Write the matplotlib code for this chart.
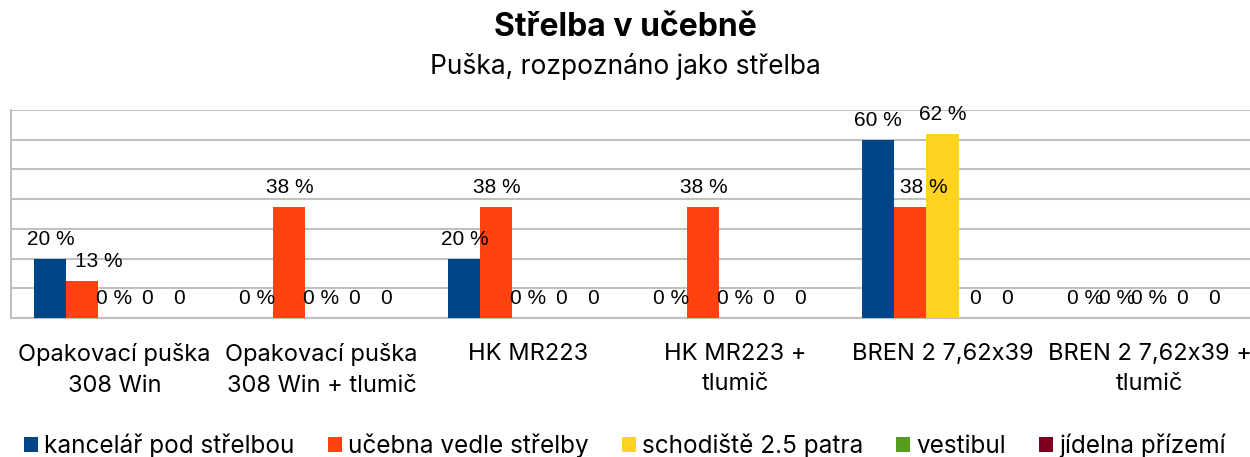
import numpy as np
import matplotlib
matplotlib.use('Agg')
from matplotlib import pyplot as plt
from matplotlib.patches import Patch

categories = ['Opakovací puška\n308 Win', 'Opakovací puška\n308 Win + tlumič', 'HK MR223',
              'HK MR223 +\ntlumič', 'BREN 2 7,62x39', 'BREN 2 7,62x39 +\ntlumič']
series = ['kancelář pod střelbou', 'učebna vedle střelby', 'schodiště 2.5 patra',
          'vestibul', 'jídelna přízemí']
kancelar = [20, 0, 20, 0, 60, 0]
ucebna = [12.5, 37.5, 37.5, 37.5, 37.5, 0]
schodiste = [0, 0, 0, 0, 62, 0]
vestibul = [0, 0, 0, 0, 0, 0]
jidelna = [0, 0, 0, 0, 0, 0]
colors = ['#004586', '#ff420e', '#ffd320', '#579d1c', '#7e0021']
show_pct = [True, True, True, False, False]  # last two series labelled without %

values = [kancelar, ucebna, schodiste, vestibul, jidelna]
# small nudges where the labels would overlap
nudge = {(0, 1): 12, (4, 1): 10}

fig = plt.figure(figsize=(12.5, 4.57), dpi=100)
ax = fig.add_axes([11 / 1250, 1 - 318 / 457, 1242 / 1250, 208 / 457])

x = np.arange(len(categories))
w = 0.155
for i, (name, vals) in enumerate(zip(series, values)):
    pos = x + (i - 2) * w
    ax.bar(pos, vals, width=w, color=colors[i], zorder=3)
    for j, v in enumerate(vals):
        txt = '%d %%' % int(v + 0.5) if show_pct[i] else '%d' % int(v + 0.5)
        ax.annotate(txt, (pos[j], v), xytext=(nudge.get((j, i), 0), 14),
                    textcoords='offset points', ha='center', va='center',
                    fontsize=15, family='Liberation Sans', zorder=4)

ax.set_xlim(-0.5, len(categories) - 0.5)
ax.set_ylim(0, 70)
ax.set_yticks(np.arange(0, 71, 10))
ax.set_yticklabels([])
ax.tick_params(axis='y', length=0)
ax.tick_params(axis='x', length=0, pad=18)
ax.set_xticks(x)
ax.set_xticklabels(categories, fontsize=17, family='Inter', color='#000000', linespacing=1.5)
ax.grid(axis='y', color='#c0c0c0', linewidth=1.5, zorder=0)
for s in ['left', 'bottom']:
    ax.spines[s].set_color('#c0c0c0')
    ax.spines[s].set_linewidth(1.5)
ax.spines['top'].set_visible(False)
ax.spines['right'].set_visible(False)

fig.text(0.5, 1 - 27 / 457, 'Střelba v učebně', ha='center', va='center',
         fontsize=23, fontweight='bold', family='Inter')
fig.text(0.5, 1 - 67 / 457, 'Puška, rozpoznáno jako střelba', ha='center', va='center',
         fontsize=19, family='Inter')

handles = [Patch(facecolor=c) for c in colors]
fig.legend(handles, series, loc='center', bbox_to_anchor=(0.5, 1 - 446 / 457), ncol=5,
           frameon=False, prop={'family': 'Inter', 'size': 17.5},
           handlelength=0.58, handleheight=0.58, handletextpad=0.25, columnspacing=1.36)

fig.savefig('out.png', dpi=100)
